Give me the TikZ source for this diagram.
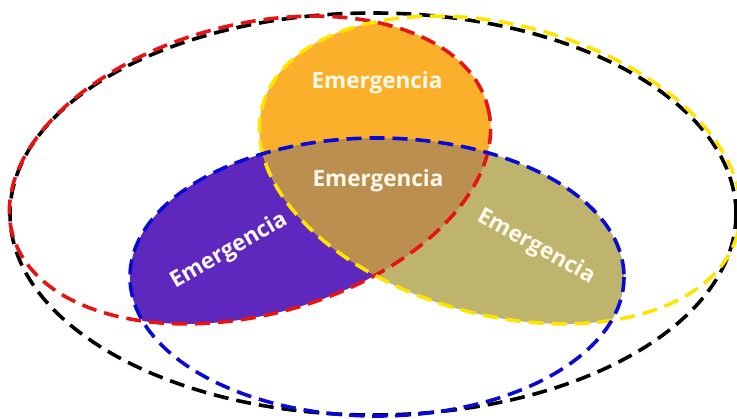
\documentclass[tikz,border=0pt]{standalone}
\usepackage{fontspec}
\setsansfont{Open Sans}
\definecolor{orng}{RGB}{251,176,44}
\definecolor{brwn}{RGB}{186,143,79}
\definecolor{purp}{RGB}{94,40,190}
\definecolor{olv}{RGB}{191,180,110}
\definecolor{txt}{RGB}{255,250,235}
\definecolor{yel}{RGB}{255,228,0}
\definecolor{rd}{RGB}{232,20,20}
\definecolor{bl}{RGB}{10,10,215}
\tikzset{
  outline/.style={line width=3.6pt, dash pattern=on 15pt off 8pt},
  lbl/.style={text=txt, font=\sffamily\bfseries\fontsize{22.5}{26}\selectfont, inner sep=0pt},
  redrot/.style={rotate around={15:(250,170)}},
  yelrot/.style={rotate around={-15:(500,170)}}
}
\begin{document}
\begin{tikzpicture}[x=1pt,y=-1pt]
\useasboundingbox (0,0) rectangle (737,419);
% red ∩ yellow : orange
\begin{scope}
  \clip[redrot] (250,170) ellipse [x radius=246, y radius=145];
  \fill[orng, yelrot] (500,170) ellipse [x radius=246, y radius=145];
\end{scope}
% red ∩ blue : purple
\begin{scope}
  \clip[redrot] (250,170) ellipse [x radius=246, y radius=145];
  \fill[purp] (377,277) ellipse [x radius=247, y radius=139];
\end{scope}
% yellow ∩ blue : olive
\begin{scope}
  \clip[yelrot] (500,170) ellipse [x radius=246, y radius=145];
  \fill[olv] (377,277) ellipse [x radius=247, y radius=139];
\end{scope}
% red ∩ yellow ∩ blue : brown
\begin{scope}
  \clip[redrot] (250,170) ellipse [x radius=246, y radius=145];
  \clip[yelrot] (500,170) ellipse [x radius=246, y radius=145];
  \fill[brwn] (377,277) ellipse [x radius=247, y radius=139];
\end{scope}
% outlines
\draw[outline, black] (373,214) ellipse [x radius=363, y radius=201];
\draw[outline, rd, redrot] (250,170) ellipse [x radius=246, y radius=145];
\draw[outline, yel, yelrot] (500,170) ellipse [x radius=246, y radius=145];
\draw[outline, bl] (377,277) ellipse [x radius=247, y radius=139];
% labels
\node[lbl] (top) at (377,83) {Emergencia};
\node[lbl] (mid) at (378,181) {Emergencia};
\node[lbl, rotate=30] (left) at (229,251) {Emergencia};
\node[lbl, rotate=-29] (right) at (536,247) {Emergencia};
\end{tikzpicture}
\end{document}
